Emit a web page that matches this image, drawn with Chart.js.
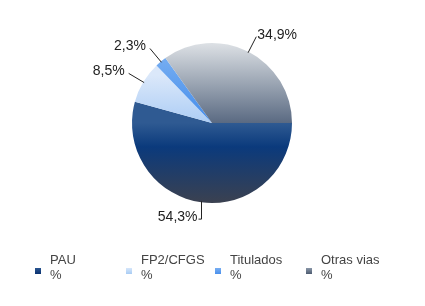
<!DOCTYPE html>
<html>
<head>
<meta charset="utf-8">
<script src="https://cdn.jsdelivr.net/npm/chart.js@4"></script>
<style>
  html, body { margin: 0; padding: 0; background: #fff; }
  #wrap { position: relative; width: 425px; height: 306px; }
  #legend { position: absolute; left: 0; top: 252px; width: 425px; height: 40px;
    font-family: 'Liberation Sans', Arial, sans-serif; font-size: 13px; color: #444; }
  .legend-item { position: absolute; top: 0; }
  .legend-color { position: absolute; left: 0; top: 16px; width: 6px; height: 6px; }
  .legend-text { position: absolute; left: 15px; top: 0; line-height: 15px; white-space: nowrap; }
</style>
</head>
<body>
<div id="wrap">
  <canvas id="pieChart" width="425" height="306"></canvas>
  <div id="legend"></div>
</div>
<script>
(function () {
  'use strict';

  // -- Data --
  var categories = ['PAU', 'FP2/CFGS', 'Titulados', 'Otras vias'];
  var values = [54.3, 8.5, 2.3, 34.9];
  var valueLabels = ['54,3%', '8,5%', '2,3%', '34,9%'];

  // gradient stops per slice (top -> bottom)
  var gradients = [
    [[0, '#2f5a92'], [0.3, '#0b3a7c'], [1, '#3b4150']],
    [[0, '#dbe8fa'], [1, '#a4c8f4']],
    [[0, '#7ab0f2'], [1, '#4a90ec']],
    [[0, '#dde1e5'], [1, '#5a6a82']]
  ];
  // vertical span of each gradient, relative to the pie (0 = top, 1 = bottom)
  var spans = [[0.5, 1], [0.2, 0.55], [0.05, 0.45], [0, 0.5]];
  var legendCss = [
    'linear-gradient(#2a5590, #0a3270)',
    'linear-gradient(#d6e6fa, #a8ccf4)',
    'linear-gradient(#78aef2, #4a90ec)',
    'linear-gradient(#8a97a8, #4d5b70)'
  ];
  var legendX = [35, 126, 215, 306];

  Chart.defaults.font.family = "'Liberation Sans', Arial, sans-serif";
  Chart.defaults.plugins.legend.display = false;
  Chart.defaults.plugins.tooltip.enabled = false;

  function sliceFill(ctx) {
    var chart = ctx.chart;
    var area = chart.chartArea;
    if (!area) return gradients[ctx.dataIndex][0][1];
    var cy = (area.top + area.bottom) / 2;
    var r = Math.min(area.right - area.left, area.bottom - area.top) / 2;
    var top = cy - r, h = r * 2;
    var s = spans[ctx.dataIndex];
    var g = chart.ctx.createLinearGradient(0, top + h * s[0], 0, top + h * s[1]);
    gradients[ctx.dataIndex].forEach(function (st) { g.addColorStop(st[0], st[1]); });
    return g;
  }

  // -- Value labels with leader lines --
  var valueLabelPlugin = {
    id: 'valueLabels',
    afterDatasetsDraw: function (chart) {
      var c = chart.ctx;
      var arcs = chart.getDatasetMeta(0).data;
      c.save();
      c.font = '14px "Liberation Sans", Arial, sans-serif';
      c.fillStyle = '#222';
      c.strokeStyle = '#222';
      c.lineWidth = 1;
      c.textBaseline = 'middle';
      arcs.forEach(function (arc, i) {
        var mid = (arc.startAngle + arc.endAngle) / 2;
        var r = arc.outerRadius;
        var cos = Math.cos(mid), sin = Math.sin(mid);
        var x0 = arc.x + cos * (r - 1), y0 = arc.y + sin * (r - 1);
        var x1 = arc.x + cos * (r + 17), y1 = arc.y + sin * (r + 17);
        if (Math.abs(cos) < 0.2) { x0 = Math.round(x0) + 0.5; x1 = x0; }
        c.beginPath();
        c.moveTo(x0, y0);
        c.lineTo(x1, y1);
        if (Math.abs(cos) < 0.2) c.lineTo(x1 - 3, y1);
        c.stroke();
        if (cos < 0.2) {
          c.textAlign = 'right';
          c.fillText(valueLabels[i], x1 - 4, y1 - 2);
        } else {
          c.textAlign = 'left';
          c.fillText(valueLabels[i], x1 + 1, y1 - 2);
        }
      });
      c.restore();
    }
  };

  new Chart(document.getElementById('pieChart'), {
    type: 'pie',
    data: {
      labels: categories,
      datasets: [{
        data: values,
        backgroundColor: sliceFill,
        borderWidth: 0,
        hoverOffset: 0
      }]
    },
    options: {
      responsive: false,
      animation: false,
      rotation: 90,
      layout: { padding: { left: 40, right: 41, top: 43, bottom: 103 } },
      events: []
    },
    plugins: [valueLabelPlugin]
  });

  // -- HTML legend --
  var legend = document.getElementById('legend');
  legend.innerHTML = categories.map(function (name, i) {
    return '<span class="legend-item" style="left:' + legendX[i] + 'px">' +
      '<span class="legend-color" style="background:' + legendCss[i] + '"></span>' +
      '<span class="legend-text">' + name + '<br>%</span>' +
      '</span>';
  }).join('');
})();
</script>
</body>
</html>
